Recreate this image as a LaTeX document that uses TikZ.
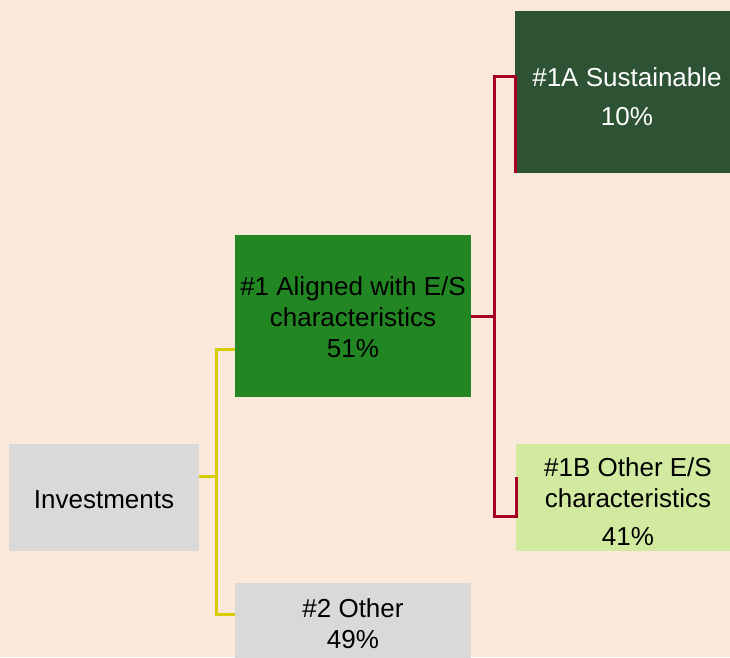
\documentclass[tikz,border=0pt]{standalone}
\usepackage{fontspec}
\setmainfont{Liberation Sans}
\definecolor{bgc}{RGB}{250,233,218}
\definecolor{grayc}{RGB}{217,217,217}
\definecolor{midgreen}{RGB}{34,134,34}
\definecolor{darkgreen}{RGB}{45,83,52}
\definecolor{lightgreen}{RGB}{210,234,160}
\definecolor{redc}{RGB}{165,0,35}
\definecolor{yellowc}{RGB}{214,204,0}
\tikzset{
  box/.style={draw=none, rectangle, inner sep=0pt, outer sep=0pt},
  txt/.style={align=center, anchor=base, inner sep=0pt, font=\fontsize{26}{31}\selectfont},
  yl/.style={draw=yellowc, line width=3pt},
  rd/.style={draw=redc, line width=3pt},
}
\begin{document}
\begin{tikzpicture}[x=1pt,y=-1pt]
\fill[bgc] (0,0) rectangle (730,657);
\useasboundingbox (0,0) rectangle (730,657);
% boxes
\node[box, fill=grayc, minimum width=190pt, minimum height=107pt] (inv) at (104,497.5) {};
\node[box, fill=midgreen, minimum width=236pt, minimum height=162pt] (al) at (353,316) {};
\node[box, fill=grayc, minimum width=236pt, minimum height=80pt] (oth) at (353,623) {};
\node[box, fill=darkgreen, minimum width=225pt, minimum height=162pt] (sus) at (627.5,92) {};
\node[box, fill=lightgreen, minimum width=224pt, minimum height=107pt] (oe) at (628,497.5) {};
% texts (anchor base = baseline of last line)
\node[txt] (invT) at (104,508) {Investments};
\node[txt] (alT) at (353,357) {\#1 Aligned with E/S\\characteristics\\51\%};
\node[txt] (othT) at (353,648) {\#2 Other\\49\%};
\node[txt, text=white] (susT) at (627,125) {\#1A Sustainable\\[7.3pt]10\%};
\node[txt] (oeT) at (628,545) {\#1B Other E/S\\characteristics\\[6.3pt]41\%};
% connectors
\coordinate (yj) at (216,476);
\coordinate (rj) at (494,316);
\draw[yl] ([yshift=21.5pt]inv.east) -- (yj);
\draw[yl] ([yshift=-33pt]al.west) -| (yj) |- ([yshift=9pt]oth.west);
\draw[rd] (al.east) -- (rj);
\draw[rd] (sus.south west) -- ([yshift=16pt]sus.west) -| (rj) |- ([yshift=-18.5pt]oe.west) -- ([yshift=20.5pt]oe.west);
\end{tikzpicture}
\end{document}
